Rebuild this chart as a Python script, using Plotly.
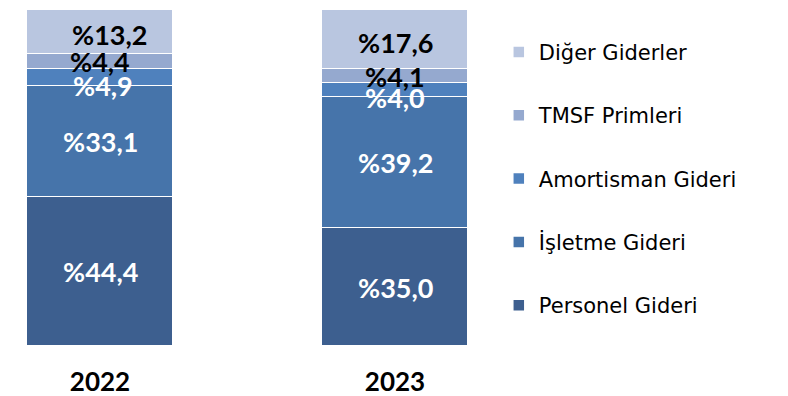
import plotly.graph_objects as go

# Cost structure shares (%) by year
years = ["2022", "2023"]
personel = [44.4, 35.0]
isletme = [33.1, 39.2]
amortisman = [4.9, 4.0]
tmsf = [4.4, 4.1]
diger = [13.2, 17.6]

series = [
    ("Personel Gideri", personel, "#3D5F8F", "white"),
    ("İşletme Gideri", isletme, "#4674AA", "white"),
    ("Amortisman Gideri", amortisman, "#4F81BD", "white"),
    ("TMSF Primleri", tmsf, "#95A9CF", "black"),
    ("Diğer Giderler", diger, "#B9C6E0", "black"),
]

# label nudges in pixels (x, y) for crowded thin segments
nudges = {
    ("Amortisman Gideri", 0): (3, -8),
    ("Amortisman Gideri", 1): (0, -8),
    ("Diğer Giderler", 0): (9, -2),
    ("Diğer Giderler", 1): (0, -3),
}

FONT = "Lato"
fig = go.Figure()
annotations = []
base = [0.0] * len(years)
n = len(series)
for k, (name, vals, color, txtcol) in enumerate(series):
    fig.add_trace(go.Bar(
        x=list(range(len(years))), y=vals, name=name,
        marker=dict(color=color, line=dict(color="white", width=1.5)),
        width=0.495, legendgroup=name, legendrank=n - k, hoverinfo="skip",
    ))
    for i, v in enumerate(vals):
        dx, dy = nudges.get((name, i), (0, 0))
        annotations.append(dict(
            x=i, y=base[i] + v / 2, xref="x", yref="y",
            text="%" + f"{v:.1f}".replace(".", ","),
            showarrow=False, xshift=dx, yshift=dy,
            font=dict(family=FONT, size=27, color=txtcol, weight="bold"),
        ))
        base[i] += v

fig.update_layout(
    width=788, height=396,
    barmode="stack",
    bargap=0,
    plot_bgcolor="white", paper_bgcolor="white",
    margin=dict(l=0, r=0, t=10, b=50),
    xaxis=dict(
        domain=[0, 500 / 788],
        range=[-100 / 295, 400 / 295],
        tickmode="array", tickvals=list(range(len(years))), ticktext=years,
        tickfont=dict(family=FONT, size=26, color="black", weight="bold"),
        showgrid=False, zeroline=False, showline=False, ticks="",
        ticklabelstandoff=18,
    ),
    yaxis=dict(range=[0, 100], visible=False),
    legend=dict(
        x=0.633, xanchor="left", y=0.935, yanchor="top",
        traceorder="grouped", tracegroupgap=33,
        font=dict(family="DejaVu Sans", size=21, color="black"),
        bgcolor="rgba(0,0,0,0)",
    ),
    annotations=annotations,
    showlegend=True,
)

fig.write_html("out.html")
